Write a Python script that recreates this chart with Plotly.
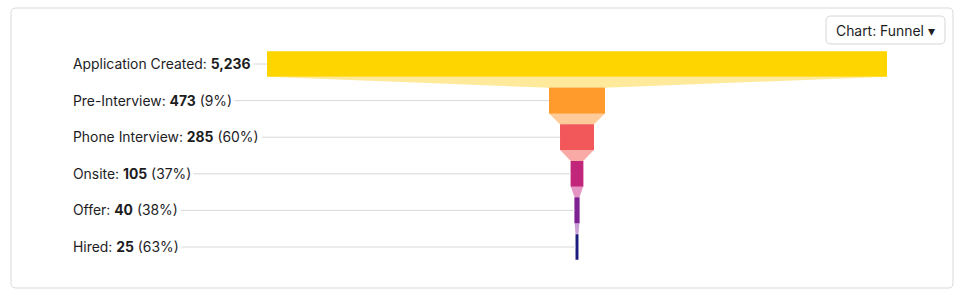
import math
import plotly.graph_objects as go

# ---- data ----
stages = ["Application Created", "Pre-Interview", "Phone Interview", "Onsite", "Offer", "Hired"]
values = [5236, 473, 285, 105, 40, 25]
bar_colors = ["#FFD500", "#FF9A2C", "#F2575A", "#C2267A", "#7E2292", "#1B1C7C"]
connector_colors = ["#FFEA9C", "#FFCB98", "#F9A9A6", "#E595C1", "#C9A0D6"]
button_label = "Chart: Funnel ▾"

W, H = 961, 297
FONT = "Inter, Roboto, 'Open Sans', sans-serif"


def px(x):
    return x / W


def py(y):
    return 1 - y / H


def rrect(x0, y0, x1, y1, r):
    rx, ry = r / W, r / H
    X0, X1 = px(x0), px(x1)
    Y0, Y1 = py(y0), py(y1)  # Y0 top (larger), Y1 bottom
    return (f"M {X0+rx},{Y0} L {X1-rx},{Y0} Q {X1},{Y0} {X1},{Y0-ry} "
            f"L {X1},{Y1+ry} Q {X1},{Y1} {X1-rx},{Y1} L {X0+rx},{Y1} "
            f"Q {X0},{Y1} {X0},{Y1+ry} L {X0},{Y0-ry} Q {X0},{Y0} {X0+rx},{Y0} Z")


# plot-area geometry
dom_left, bar_left, bar_right = 73, 267, 887
vmax = max(values)
scale = (bar_right - bar_left) / vmax
x_hi = vmax / 2
x_lo = x_hi - (bar_right - dom_left) / scale

fig = go.Figure()

# leader lines from labels to bars
lx, ly = [], []
for s, v in zip(stages, values):
    lx += [x_lo, -v / 2, None]
    ly += [s, s, None]
fig.add_trace(go.Scatter(x=lx, y=ly, mode="lines", line=dict(color="#d8d8d8", width=1),
                         hoverinfo="skip", showlegend=False))

# funnel, drawn pairwise so each connector takes the upper stage's tint
for i in range(len(stages) - 1):
    fig.add_trace(go.Funnel(
        y=[stages[i], stages[i + 1]],
        x=[values[i], values[i + 1]],
        marker=dict(color=[bar_colors[i], bar_colors[i + 1]], line=dict(width=0)),
        connector=dict(fillcolor=connector_colors[i], line=dict(width=0)),
        textinfo="none", hoverinfo="skip", showlegend=False,
    ))

annotations = []
for i, (s, v) in enumerate(zip(stages, values)):
    txt = f"{s}: <b>{v:,}</b>"
    if i > 0:
        pct = math.floor(v / values[i - 1] * 100 + 0.5)
        txt += f" ({pct}%)"
    annotations.append(dict(
        x=px(dom_left - 3), xref="paper", xanchor="left",
        y=s, yref="y", yanchor="middle",
        text=txt, showarrow=False, bgcolor="white", borderpad=2,
        font=dict(family=FONT, size=13.9, color="#1d1d1f"),
    ))

annotations.append(dict(
    x=px(885.5), y=py(30.5), xref="paper", yref="paper",
    xanchor="center", yanchor="middle", text=button_label, showarrow=False,
    font=dict(family=FONT, size=13.9, color="#1d1d1f"),
))

shapes = [
    dict(type="path", xref="paper", yref="paper", path=rrect(11, 8, 953, 288, 5),
         line=dict(color="#d9d9d9", width=1), fillcolor="rgba(0,0,0,0)", layer="below"),
    dict(type="path", xref="paper", yref="paper", path=rrect(826, 16, 945, 44, 5),
         line=dict(color="#d6d6d6", width=1), fillcolor="white", layer="above"),
]

row_h = 36.6
top = 64 - row_h / 2
bottom = top + row_h * len(stages)

fig.update_layout(
    width=W, height=H,
    margin=dict(l=0, r=0, t=0, b=0),
    paper_bgcolor="white", plot_bgcolor="white",
    funnelmode="overlay", funnelgap=0.3,
    showlegend=False,
    xaxis=dict(domain=[px(dom_left), px(bar_right)], range=[x_lo, x_hi],
               visible=False, fixedrange=True),
    yaxis=dict(domain=[py(bottom), py(top)], type="category",
               categoryorder="array", categoryarray=stages,
               range=[len(stages) - 0.5, -0.5], visible=False, fixedrange=True),
    annotations=annotations,
    shapes=shapes,
    font=dict(family=FONT),
)

fig.write_html("out.html", config={"displayModeBar": False})
